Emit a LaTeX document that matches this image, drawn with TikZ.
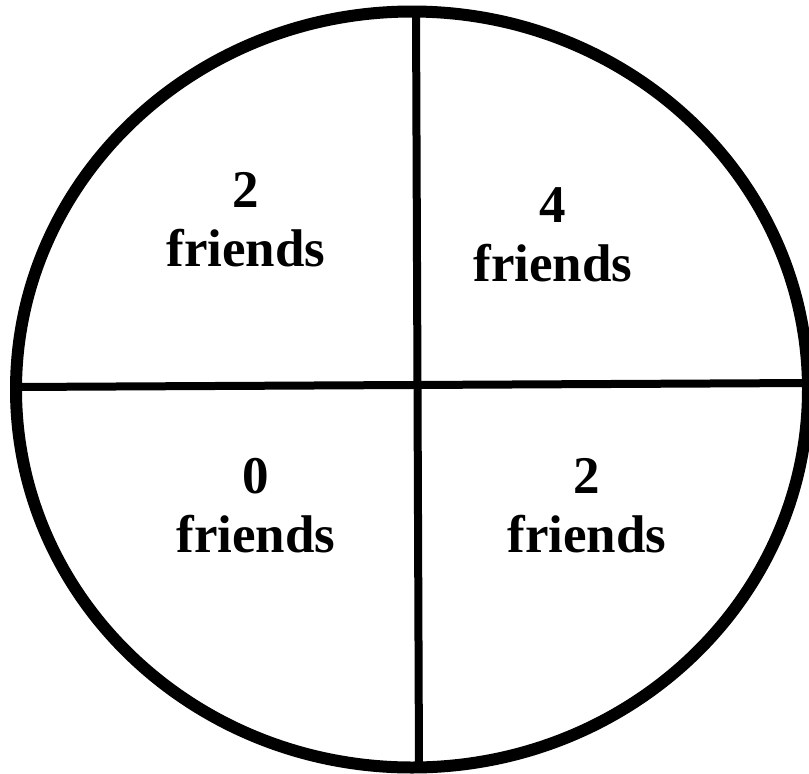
\documentclass[tikz,border=0pt]{standalone}
\usepackage{fontspec}
\setmainfont{Liberation Serif}
\usetikzlibrary{positioning}

\begin{document}
\begin{tikzpicture}[x=1pt,y=-1pt,
rim/.style={line width=12pt},
divider/.style={line width=8pt},
lab/.style={font=\bfseries\fontsize{53}{59}\selectfont,align=center,inner sep=0pt}]
\useasboundingbox (0,0) rectangle (809,774);
% outer rim
\draw[rim] (412,389.5) ellipse [x radius=396,y radius=378];
% dividers
\coordinate (top) at (416,10);
\coordinate (bot) at (419,768);
\coordinate (lft) at (16,387);
\coordinate (rgt) at (808,383);
\draw[divider] (top)--(bot);
\draw[divider] (lft)--(rgt);
% quadrant labels
\node[lab] (tl) at (246,220) {2\\friends};
\node[lab] (tr) at (553,235) {4\\friends};
\node[lab] (bl) at (256,506) {0\\friends};
\node[lab] (br) at (587,506) {2\\friends};
\end{tikzpicture}
\end{document}
